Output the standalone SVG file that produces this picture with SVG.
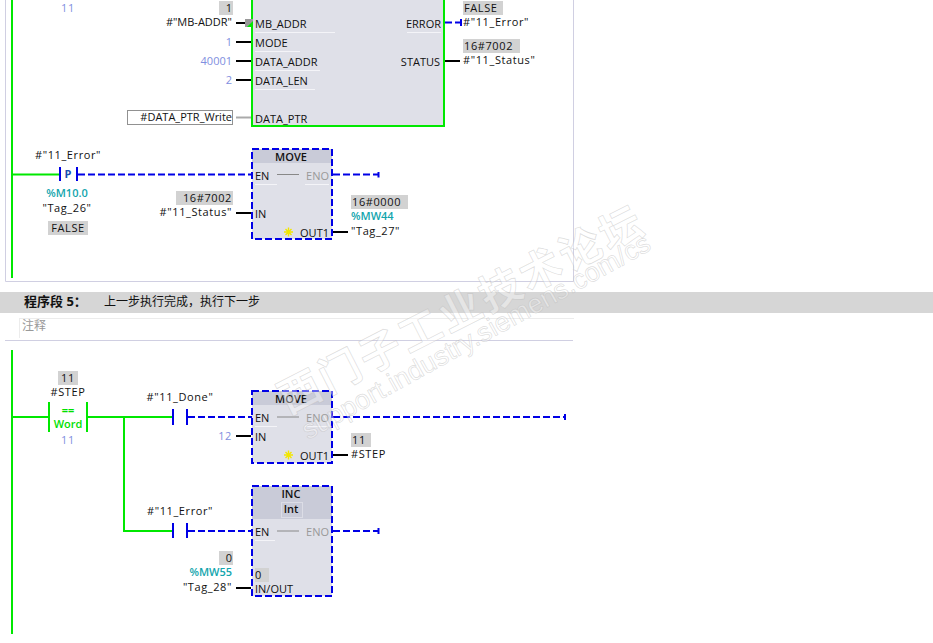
<svg xmlns="http://www.w3.org/2000/svg" width="933" height="643" viewBox="0 0 933 643">
<style>
text{font-family:"Open Sans","Noto Sans","Noto Sans CJK SC",sans-serif;font-size:11px;fill:#111}
.r{text-anchor:end}.m{text-anchor:middle}
.s{letter-spacing:.6px}
.c{fill:#7f8fe0}.t{fill:#12a5ad;font-weight:600}.g{fill:#999}
.box{fill:#dfe0e8}.head{fill:#c9cbd8}.val{fill:#d2d2d2}
.pg{stroke:#00e800;stroke-width:2;fill:none}
.pb{stroke:#0000e6;stroke-width:2;fill:none;stroke-dasharray:7 3}
.bb{stroke:#0000e6;stroke-width:2;fill:none}
.k{stroke:#000;stroke-width:2;fill:none}
.fr{stroke:#d0cfe2;stroke-width:1;fill:none}
.u{stroke:#f4f4f8;stroke-width:1;fill:none}
.star{stroke:#f2e600;stroke-width:1.400;fill:none}
.w{fill:#fff;fill-opacity:.4;stroke:#b4b4b4;stroke-opacity:.45;stroke-width:.7;font-family:"Liberation Sans","Noto Sans CJK SC",sans-serif}
</style>
<rect width="933" height="643" fill="#fff"/>
<g id="frame">
<path class="fr" d="M5.500 0V281.500H573.500V0"/>
<rect x="0" y="292" width="933" height="21" fill="#d6d6d6"/>
<path d="M19 318.500H574" stroke="#ececec" fill="none"/>
<path d="M19.500 318V338" stroke="#ececec" fill="none"/>
<path d="M5 340.500H573" stroke="#d0cfe2" fill="none"/>
<text x="24" y="306" style="font-size:13px;font-weight:700">程序段 5：</text>
<text x="104" y="306" style="font-size:12px">上一步执行完成，执行下一步</text>
<text x="22" y="330" class="g" style="font-size:12px">注释</text>
</g>
<g id="connectors">
<path class="pg" d="M12 0V278M12 350V634M12 417H48M88 417H173M124 417V531H173M12 174.500H59"/>
<path class="pb" d="M78 174.500H252M188 417H252M188 531H252M333 174.500H379M333 417H565M333 531H379M445 22.500H461"/>
<path class="bb" d="M60 167V181M77 167V181M173 409V425M187 409V425M173 523V538M187 523V538M378.500 172V177.500M565 414V420M378.500 528V534M461 19V26"/>
<path class="k" d="M236 23H246M236 42H251M236 61H251M236 80H251M445 61H460M236 213H251M333 232H348M236 436H251M333 455H348M236 588H251"/>
<path d="M236 117.500H251" stroke="#aaa" stroke-width="2" fill="none"/>
</g>
<g id="n11"><text x="68" y="12" class="m c s">11</text></g>
<g id="block1">
<rect class="box" x="252" y="0" width="192" height="126"/>
<path class="pg" d="M252 0V126H444V0"/>
<path class="u" d="M255 32.500H335M255 51.500H300M255 70.500H320M255 89.500H315M407 32.500H441"/>
<rect x="245" y="19" width="8" height="8" fill="#999"/>
<path d="M247 27L253 21V27Z" fill="#00e800"/>
<rect class="val" x="219" y="1" width="14" height="14"/>
<text x="232" y="12" class="r">1</text>
<text x="232" y="26" class="r">#"MB-ADDR"</text>
<text x="232" y="46" class="r c">1</text>
<text x="232" y="65" class="r c">40001</text>
<text x="232" y="84" class="r c">2</text>
<rect x="127.500" y="110.500" width="105" height="14" fill="none" stroke="#222" stroke-dasharray="1 1"/>
<text x="232" y="121" class="r">#DATA_PTR_Write</text>
<text x="255" y="28">MB_ADDR</text>
<text x="255" y="47">MODE</text>
<text x="255" y="66">DATA_ADDR</text>
<text x="255" y="85">DATA_LEN</text>
<text x="255" y="123">DATA_PTR</text>
<text x="441" y="28" class="r">ERROR</text>
<text x="440" y="66" class="r">STATUS</text>
<rect class="val" x="463" y="1" width="40" height="14"/>
<text x="464" y="12" class="s">FALSE</text>
<text x="463" y="26" class="s">#"11_Error"</text>
<rect class="val" x="463" y="39" width="57" height="14"/>
<text x="464" y="50" class="s">16#7002</text>
<text x="463" y="64" class="s">#"11_Status"</text>
</g>
<g id="contact-p">
<text x="68" y="159" class="m s">#"11_Error"</text>
<text x="68" y="178" class="m" style="font-weight:700;fill:#1a4fb0">P</text>
<text x="67" y="197" class="m t">%M10.0</text>
<text x="67" y="212" class="m s">"Tag_26"</text>
<rect class="val" x="48" y="221" width="40" height="14"/>
<text x="68" y="232" class="m s">FALSE</text>
</g>
<g id="move1">
<rect class="box" x="252" y="149" width="80" height="90"/>
<rect class="head" x="252" y="149" width="80" height="14"/>
<rect class="pb" x="252" y="149" width="80" height="90"/>
<path d="M277 174.500H299" stroke="#888"/>
<path class="u" d="M255 184.500H277M305 184.500H329"/>
<text x="291" y="161" class="m" style="font-weight:600">MOVE</text>
<text x="255" y="180">EN</text>
<text x="329" y="180" class="r g">ENO</text>
<text x="255" y="218">IN</text>
<text x="329" y="237" class="r">OUT1</text>
<path class="star" d="M284 232H293M288.500 227.500V236.500M285.500 229L291.500 235M291.500 229L285.500 235"/>
<rect class="val" x="176" y="191" width="57" height="14"/>
<text x="232" y="202" class="r s">16#7002</text>
<text x="232" y="216" class="r s">#"11_Status"</text>
<rect class="val" x="351" y="195" width="57" height="14"/>
<text x="352" y="206" class="s">16#0000</text>
<text x="351" y="220" class="t">%MW44</text>
<text x="351" y="235" class="s">"Tag_27"</text>
</g>
<g id="compare">
<rect class="val" x="58" y="371" width="20" height="14"/>
<text x="68" y="382" class="m s">11</text>
<text x="68" y="396" class="m s">#STEP</text>
<path class="pg" d="M49 402V432M87 402V432"/>
<text x="68" y="414" class="m" style="fill:#00e000;font-weight:700">==</text>
<text x="68" y="428" class="m" style="fill:#00e000;font-weight:600">Word</text>
<text x="68" y="444" class="m c s">11</text>
</g>
<g id="contact-done"><text x="180" y="401" class="m s">#"11_Done"</text></g>
<g id="move2">
<rect class="box" x="252" y="391" width="80" height="72"/>
<rect class="head" x="252" y="391" width="80" height="14"/>
<rect class="pb" x="252" y="391" width="80" height="72"/>
<path d="M277 417H299" stroke="#888"/>
<path class="u" d="M255 426.500H277M305 426.500H329"/>
<text x="291" y="403" class="m" style="font-weight:600">MOVE</text>
<text x="255" y="422">EN</text>
<text x="329" y="422" class="r g">ENO</text>
<text x="255" y="441">IN</text>
<text x="329" y="460" class="r">OUT1</text>
<path class="star" d="M284 455H293M288.500 450.500V459.500M285.500 452L291.500 458M291.500 452L285.500 458"/>
<text x="232" y="440" class="r c s">12</text>
<rect class="val" x="351" y="433" width="20" height="14"/>
<text x="352" y="444" class="s">11</text>
<text x="351" y="458" class="s">#STEP</text>
</g>
<g id="contact-error"><text x="180" y="515" class="m s">#"11_Error"</text></g>
<g id="inc">
<rect class="box" x="252" y="486" width="80" height="110"/>
<rect class="head" x="252" y="486" width="80" height="33"/>
<rect x="281.500" y="502.500" width="21" height="15" fill="none" stroke="#dcdde6"/>
<rect class="pb" x="252" y="486" width="80" height="110"/>
<path d="M277 531H299" stroke="#888"/>
<path class="u" d="M255 540.500H275"/>
<text x="291" y="498" class="m" style="font-weight:600">INC</text>
<text x="291" y="513" class="m" style="font-weight:600">Int</text>
<text x="255" y="536">EN</text>
<text x="329" y="536" class="r g">ENO</text>
<rect class="val" x="255" y="568" width="14" height="14"/>
<text x="255" y="579">0</text>
<text x="255" y="593">IN/OUT</text>
<rect class="val" x="219" y="551" width="14" height="14"/>
<text x="232" y="562" class="r">0</text>
<text x="232" y="576" class="r t">%MW55</text>
<text x="232" y="591" class="r s">"Tag_28"</text>
</g>
<g id="watermark">
<text class="w" transform="translate(288 415) rotate(-27)" style="font-size:42px;font-weight:700;letter-spacing:3px">西门子工业技术论坛</text>
<text class="w" transform="translate(308 440) rotate(-29)" style="font-size:27px" textLength="394">support.industry.siemens.com/cs</text>
</g>
</svg>
